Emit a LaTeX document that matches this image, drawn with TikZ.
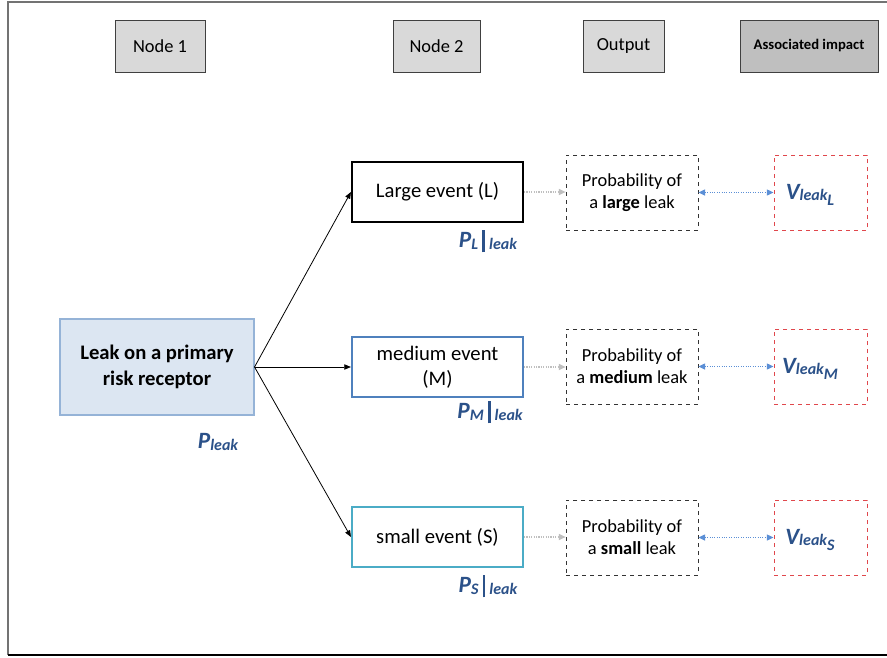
\documentclass[tikz,border=0pt]{standalone}
\usepackage{fontspec}
\setmainfont{Carlito}
\usetikzlibrary{arrows.meta}
\definecolor{hdrgray}{HTML}{D9D9D9}
\definecolor{hdrdark}{HTML}{BFBFBF}
\definecolor{leakfill}{HTML}{DCE6F2}
\definecolor{leakline}{HTML}{95B3D7}
\definecolor{medline}{HTML}{4F81BD}
\definecolor{smline}{HTML}{4BACC6}
\definecolor{lblblue}{HTML}{2B5189}
\definecolor{impred}{HTML}{E0474C}
\definecolor{dblue}{HTML}{5B8FD6}
\definecolor{dgray}{HTML}{BFBFBF}
\tikzset{
  hdr/.style={draw=black!75, fill=hdrgray, line width=0.6pt, minimum height=39pt, font=\fontsize{13.8}{16}\selectfont, inner sep=0pt},
  evbox/.style={draw, fill=white, line width=1.6pt, minimum width=128.25pt, minimum height=45pt, align=center, font=\fontsize{15.5}{18.75}\selectfont, inner sep=0pt},
  outbox/.style={draw=black!80, dashed, line width=0.6pt, minimum width=99pt, minimum height=56.25pt, align=center, font=\fontsize{13.8}{16.5}\selectfont, inner sep=0pt},
  impbox/.style={draw=impred, dashed, line width=0.7pt, minimum width=69.75pt, minimum height=56.25pt, inner sep=0pt},
  lbl/.style={text=lblblue, inner sep=0pt},
  tree/.style={-{Triangle[length=5pt,width=4pt]}, line width=0.6pt},
  gflow/.style={-{Triangle[length=5pt,width=4.5pt]}, draw=dgray, densely dotted, line width=0.8pt},
  bflow/.style={{Triangle[length=5pt,width=4.5pt]}-{Triangle[length=5pt,width=4.5pt]}, draw=dblue, densely dotted, line width=0.8pt}
}
\newcommand{\bigP}[1]{{\fontsize{17.5}{17.5}\selectfont\bfseries\itshape #1}}
\newcommand{\smallt}[1]{{\fontsize{12}{12}\selectfont\bfseries\itshape #1}}
\newcommand{\condlbl}[1]{\bigP{P}\raisebox{-1pt}{\smallt{#1}}\hspace{3pt}\rule[-3.5pt]{2.2pt}{17pt}\hspace{3pt}\raisebox{-1.5pt}{\smallt{leak}}}
\newcommand{\vlbl}[1]{\bigP{V}\raisebox{-1pt}{\smallt{leak}}\raisebox{-5pt}{\smallt{#1}}}
\begin{document}
\begin{tikzpicture}[x=0.75pt,y=-0.75pt]
\useasboundingbox (0,0) rectangle (887,657);
\fill[white] (0,0) rectangle (887,657);
% frame
\draw[black!55, line width=1.5pt] (887,2) -- (8,2) -- (8,655);
\draw[black, line width=1.5pt] (8,655) -- (887,655);
% headers
\node[hdr, minimum width=67.5pt] (h1) at (160,46) {Node 1};
\node[hdr, minimum width=65.25pt] (h2) at (436.5,46) {Node 2};
\node[hdr, minimum width=60.75pt] (h3) at (623.5,46) {Output};
\node[hdr, fill=hdrdark, minimum width=103.5pt, font=\fontsize{11}{13}\selectfont\bfseries] (h4) at (809,46) {Associated impact};
% root
\node[draw=leakline, fill=leakfill, line width=0.8pt, minimum width=145.5pt, minimum height=72pt, align=center, font=\fontsize{15.5}{19.5}\selectfont\bfseries, inner sep=0pt] (leak) at (157,367) {Leak on a primary\\risk receptor};
\node[lbl] (pleak) at (218,442) {\bigP{P}\raisebox{-1.5pt}{\smallt{leak}}};
% events
\node[evbox, draw=black] (large) at (437.5,192) {Large event (L)};
\node[evbox, draw=medline] (medium) at (437.5,367) {medium event\\(M)};
\node[evbox, draw=smline] (small) at (437.5,537) {small event (S)};
\node[lbl] (pl) at (488,241) {\condlbl{L}};
\node[lbl] (pm) at (490,412) {\condlbl{M}};
\node[lbl] (ps) at (488,586) {\condlbl{S}};
% outputs
\node[outbox] (ol) at (632,192.5) {Probability of\\a \textbf{large} leak};
\node[outbox] (om) at (632,366.5) {Probability of\\a \textbf{medium} leak};
\node[outbox] (os) at (632,537.5) {Probability of\\a \textbf{small} leak};
% impacts
\node[impbox] (vl) at (820.5,192.5) {};
\node[impbox] (vm) at (820.5,366.5) {};
\node[impbox] (vs) at (820.5,537.5) {};
\node[lbl] (vlt) at (810,195) {\vlbl{L}};
\node[lbl] (vmt) at (810,369) {\vlbl{M}};
\node[lbl] (vst) at (810,540) {\vlbl{S}};
% connectors
\draw[tree] (leak.east) -- (large.west);
\draw[tree] (leak.east) -- (medium.west);
\draw[tree] (leak.east) -- (small.west);
\draw[gflow] (large.east) -- (ol.west |- large.east);
\draw[gflow] (medium.east) -- (om.west |- medium.east);
\draw[gflow] (small.east) -- (os.west |- small.east);
\draw[bflow] (ol.east) -- (vl.west);
\draw[bflow] (om.east) -- (vm.west);
\draw[bflow] (os.east) -- (vs.west);
\end{tikzpicture}
\end{document}
